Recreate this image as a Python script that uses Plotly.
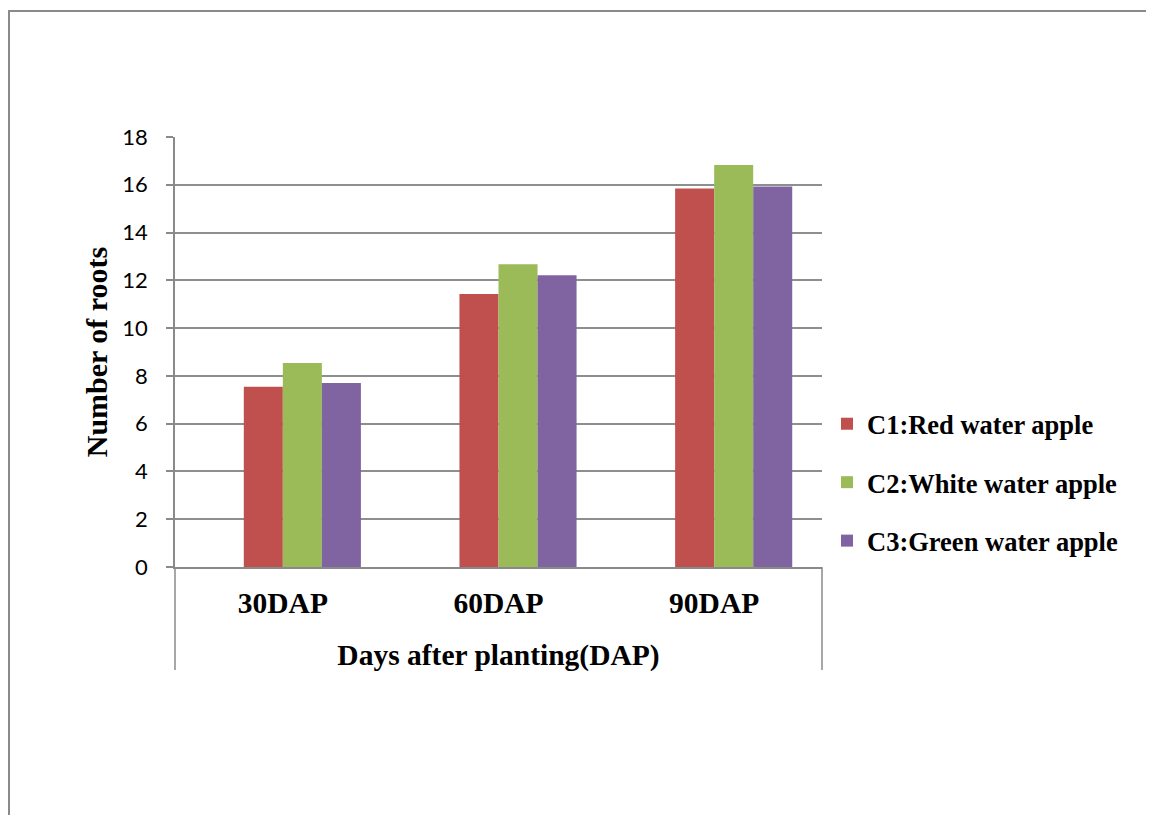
import plotly.graph_objects as go

categories = ["30DAP", "60DAP", "90DAP"]
series_names = ["C1:Red water apple", "C2:White water apple", "C3:Green water apple"]
c1_values = [7.55, 11.43, 15.84]
c2_values = [8.54, 12.67, 16.83]
c3_values = [7.70, 12.21, 15.93]
colors = ["#C0504D", "#9BBB59", "#8064A2"]
y_ticks = [0, 2, 4, 6, 8, 10, 12, 14, 16, 18]

# page body has an 8px default margin; compensate so the chart lands where the reference has it
SHIFT = 8
W, H = 1154 - SHIFT, 815 - SHIFT
pw, ph = 647, 430
L, T = 175 - SHIFT, 137 - SHIFT
R, B = W - L - pw, H - T - ph

bar_w = 0.181
offsets = [-bar_w, 0.0, bar_w]

fig = go.Figure()
for i, (name, vals) in enumerate(zip(series_names, [c1_values, c2_values, c3_values])):
    fig.add_trace(go.Bar(
        x=categories, y=vals, name=name, marker_color=colors[i],
        marker_line_width=0, legendgroup=f"g{i}",
        width=bar_w, offset=offsets[i],
    ))

def px_x(px):
    return (px - 175) / pw

def px_y(py):
    return (567 - py) / ph

serif = "Liberation Serif"
shapes = [
    dict(type="rect", xref="paper", yref="paper", x0=px_x(9), x1=px_x(1250),
         y0=px_y(900), y1=px_y(11), line=dict(color="#8a8a8a", width=2),
         fillcolor="rgba(0,0,0,0)", layer="below"),
    dict(type="line", xref="paper", yref="paper", x0=0, x1=0, y0=0, y1=px_y(670),
         line=dict(color="#8a8a8a", width=1.5)),
    dict(type="line", xref="paper", yref="paper", x0=1, x1=1, y0=0, y1=px_y(670),
         line=dict(color="#8a8a8a", width=1.5)),
]

fig.update_layout(
    width=W, height=H,
    margin=dict(l=L, r=R, t=T, b=B, autoexpand=False),
    paper_bgcolor="white", plot_bgcolor="white",
    barmode="overlay",
    showlegend=True,
    legend=dict(
        x=px_x(827), y=px_y(400), xanchor="left", yanchor="top",
        font=dict(family=serif, size=26.5, color="black", weight="bold"),
        traceorder="grouped", tracegroupgap=21, itemwidth=30,
        bgcolor="rgba(0,0,0,0)",
    ),
    shapes=shapes,
    xaxis=dict(
        type="category", showgrid=False, showline=True, linecolor="#8a8a8a", linewidth=1.5,
        ticks="", tickfont=dict(family=serif, size=29.5, color="black", weight="bold"),
        ticklabelstandoff=9,
        title=dict(text="Days after planting(DAP)", standoff=26,
                   font=dict(family=serif, size=29.5, color="black", weight="bold")),
    ),
    yaxis=dict(
        range=[0, 18], tickvals=y_ticks, showgrid=True, gridcolor="#8e8e8e", gridwidth=1.5,
        showline=True, linecolor="#8a8a8a", linewidth=1.5,
        ticks="outside", ticklen=7, tickcolor="#8a8a8a", tickwidth=1.5,
        tickfont=dict(family="Lato", size=22, color="black"),
        ticklabelstandoff=14,
        zeroline=False,
        title=dict(text="Number of roots", standoff=6,
                   font=dict(family=serif, size=30, color="black", weight="bold")),
    ),
)

fig.write_html("out.html")
